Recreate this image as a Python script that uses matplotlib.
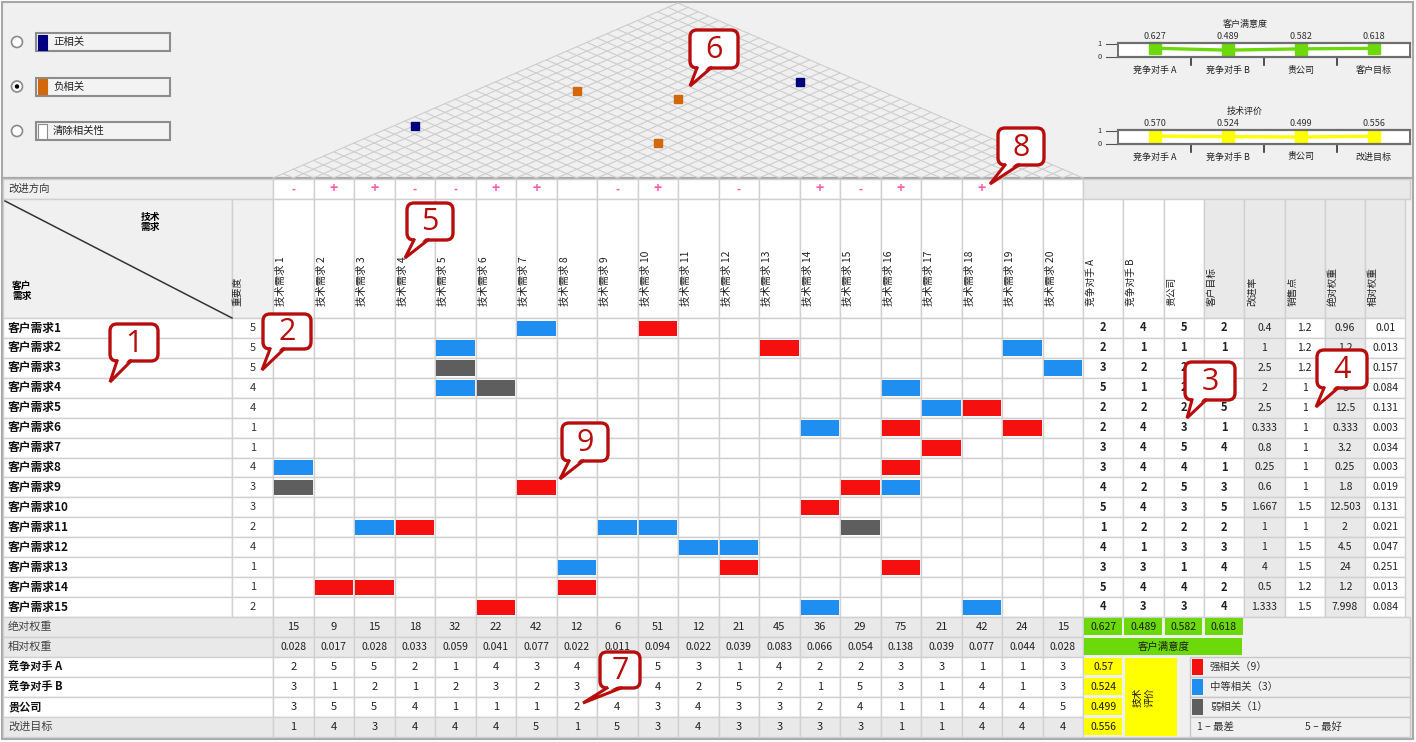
import numpy as np
import matplotlib.pyplot as plt
from matplotlib.patches import Rectangle, FancyBboxPatch, Polygon, Circle

plt.rcParams['font.family'] = ['Noto Sans CJK SC', 'DejaVu Sans']

# ---------------- data ----------------
customers = ['客户需求%d' % i for i in range(1, 16)]
importance = [5, 5, 5, 4, 4, 1, 1, 4, 3, 3, 2, 4, 1, 1, 2]
tech_names = ['技术需求 %d' % i for i in range(1, 21)]
direction = ['-', '+', '+', '-', '-', '+', '+', '', '-', '+',
             '', '-', '', '+', '-', '+', '', '+', '', '']

# relation strength per customer row, one digit per technical requirement
relation = [
    "00000030090000000000",
    "00003000000090000030",
    "00001000000000000003",
    "00003100000000030000",
    "00000000000000003900",
    "00000000000003090090",
    "00000000000000009000",
    "30000000000000090000",
    "10000090000000930000",
    "00000000000009000000",
    "00390000330000100000",
    "00000000003300000000",
    "00000003000900090000",
    "09900009000000000000",
    "00000900000003000300",
]
roof_pos = [(1, 7), (8, 19)]
roof_neg = [(3, 13), (6, 15), (8, 12)]

right_heads = ['竞争对手 A', '竞争对手 B', '贵公司', '客户目标',
               '改进率', '销售点', '绝对权重', '相对权重']
comp_a = [2, 2, 3, 5, 2, 2, 3, 3, 4, 5, 1, 4, 3, 5, 4]
comp_b = [4, 1, 2, 1, 2, 4, 4, 4, 2, 4, 2, 1, 3, 4, 3]
our_co = [5, 1, 2, 2, 2, 3, 5, 4, 5, 3, 2, 3, 1, 4, 3]
cust_goal = [2, 1, 5, 4, 5, 1, 4, 1, 3, 5, 2, 3, 4, 2, 4]
improve = ['0.4', '1', '2.5', '2', '2.5', '0.333', '0.8', '0.25', '0.6',
           '1.667', '1', '1', '4', '0.5', '1.333']
sales_pt = ['1.2', '1.2', '1.2', '1', '1', '1', '1', '1', '1', '1.5',
            '1', '1.5', '1.5', '1.2', '1.5']
row_abs = ['0.96', '1.2', '15', '8', '12.5', '0.333', '3.2', '0.25', '1.8',
           '12.503', '2', '4.5', '24', '1.2', '7.998']
row_rel = ['0.01', '0.013', '0.157', '0.084', '0.131', '0.003', '0.034',
           '0.003', '0.019', '0.131', '0.021', '0.047', '0.251', '0.013', '0.084']

bottom_labels = ['绝对权重', '相对权重', '竞争对手 A', '竞争对手 B', '贵公司', '改进目标']
tech_abs = [15, 9, 15, 18, 32, 22, 42, 12, 6, 51, 12, 21, 45, 36, 29, 75, 21, 42, 24, 15]
tech_rel = ['0.028', '0.017', '0.028', '0.033', '0.059', '0.041', '0.077', '0.022',
            '0.011', '0.094', '0.022', '0.039', '0.083', '0.066', '0.054', '0.138',
            '0.039', '0.077', '0.044', '0.028']
tech_a = [2, 5, 5, 2, 1, 4, 3, 4, 1, 5, 3, 1, 4, 2, 2, 3, 3, 1, 1, 3]
tech_b = [3, 1, 2, 1, 2, 3, 2, 3, 3, 4, 2, 5, 2, 1, 5, 3, 1, 4, 1, 3]
tech_our = [3, 5, 5, 4, 1, 1, 1, 2, 4, 3, 4, 3, 3, 2, 4, 1, 1, 4, 4, 5]
tech_goal = [1, 4, 3, 4, 4, 4, 5, 1, 5, 3, 4, 3, 3, 3, 3, 1, 1, 4, 4, 4]

satisfaction = [0.627, 0.489, 0.582, 0.618]
sat_labels = ['竞争对手 A', '竞争对手 B', '贵公司', '客户目标']
tech_eval = [0.57, 0.524, 0.499, 0.556]
eval_labels = ['竞争对手 A', '竞争对手 B', '贵公司', '改进目标']

legend_roof = ['正相关', '负相关', '清除相关性']
legend_rel = ['强相关（9）', '中等相关（3）', '弱相关（1）']

# ---------------- layout ----------------
X0, W, NT = 273, 40.5, 20
XE = X0 + W * NT
RX0, RW = XE, 40.3
Y0, H = 318, 19.93
YB = Y0 + 15 * H
BH = 20
ROOF_BASE, ROOF_TOP = 178, 3
GRID = '#d0d0d0'
PANEL = '#f0f0f0'
SHADE = '#e9e9e9'
RED, BLUE, DGRAY = '#f50f0f', '#1e8ff0', '#5e5e5e'
GREEN, YELLOW = '#6cd90a', '#ffff00'
rel_color = {'9': RED, '3': BLUE, '1': DGRAY}

fig = plt.figure(figsize=(14.16, 7.42), dpi=100)
ax = fig.add_axes([0, 0, 1, 1])
ax.set_xlim(0, 1416)
ax.set_ylim(742, 0)
ax.axis('off')


def box(x, y, w, h, fc='white', ec=GRID, lw=1.0, z=1):
    ax.add_patch(Rectangle((x, y), w, h, fc=fc, ec=ec, lw=lw, zorder=z))


def txt(x, y, s, size=8, **kw):
    kw.setdefault('ha', 'center')
    kw.setdefault('va', 'center')
    ax.text(x, y, s, fontsize=size, zorder=6, **kw)


# backgrounds
box(2, 2, 1411, 176, fc=PANEL, ec='#a8a8a8', lw=1.5)
box(2, 178, 1411, 561, fc=PANEL, ec='#a8a8a8', lw=1.5)

# ---------- top-left legend ----------
for k, lab in enumerate(legend_roof):
    cy = 42 + k * 44.5
    ax.add_patch(Circle((17, cy), 5.5, fc='white', ec='#8a8a8a', lw=1.2, zorder=3))
    if k == 1:
        ax.add_patch(Circle((17, cy), 2.2, fc='black', ec='none', zorder=4))
    box(36, cy - 9, 134, 18, fc='#f3f3f3', ec='#8c8c8c', lw=1.5, z=3)
    sw = ['#000080', '#d2670c', 'white'][k]
    box(37.5, cy - 7.5, 9, 15, fc=sw, ec='#8c8c8c' if k == 2 else sw, lw=0.8, z=4)
    txt(53, cy, lab, size=7.5, ha='left', color='#222')

# ---------- roof ----------
half = (XE - X0) / 2
slope = (ROOF_BASE - ROOF_TOP) / half
for k in range(0, 2 * NT + 1):
    p = X0 + k * W / 2
    xr = (p + XE) / 2
    ax.plot([p, xr], [ROOF_BASE, ROOF_BASE - (XE - p) / 2 * slope],
            color='#cdcdcd', lw=0.8, zorder=2)
    xl = (X0 + p) / 2
    ax.plot([p, xl], [ROOF_BASE, ROOF_BASE - (p - X0) / 2 * slope],
            color='#cdcdcd', lw=0.8, zorder=2)
for pairs, col in ((roof_pos, '#00007a'), (roof_neg, '#d2670c')):
    xs = [X0 + W * ((i - 0.5) + (j - 0.5)) / 2 for i, j in pairs]
    ys = [ROOF_BASE - (j - i) * W / 2 * slope for i, j in pairs]
    ax.scatter(xs, ys, marker='s', s=38, color=col, zorder=5)

# ---------- mini charts (top right) ----------
def mini_chart(top, values, title, labels, color):
    left, width, height = 1118, 292, 14
    a2 = fig.add_axes([left / 1416, 1 - (top + height) / 742, width / 1416, height / 742])
    a2.set_xlim(0, 4)
    a2.set_ylim(0, 1)
    a2.set_facecolor('white')
    xs = np.arange(4) + 0.5
    a2.plot(xs, values, color=color, lw=2.4, marker='s', ms=9, mec=color, clip_on=False)
    a2.set_xticks([])
    a2.set_yticks([])
    for s in ('top', 'bottom'):
        a2.spines[s].set_color('#6e6e6e')
        a2.spines[s].set_linewidth(1.6)
    for s in ('left', 'right'):
        a2.spines[s].set_color('#6e6e6e')
        a2.spines[s].set_linewidth(1.4)
    for i, v in enumerate(values):
        a2.text(xs[i], 1.15, '%.3f' % v, ha='center', va='bottom', fontsize=6.5, color='#333')
        ax.text(left + width * (i + 0.5) / 4, top + height + 13, labels[i],
                ha='center', va='center', fontsize=6.5, color='#222')
    for i in range(1, 4):
        xx = left + width * i / 4
        ax.plot([xx, xx], [top + height, top + height + 8], color='#333', lw=1.2)
    ax.text(left + 127, top - 19, title, ha='center', va='center', fontsize=6.5, color='#222')
    ax.text(1100, top + 1, '1', ha='center', va='center', fontsize=5.5, color='#333')
    ax.text(1100, top + height, '0', ha='center', va='center', fontsize=5.5, color='#333')
    ax.plot([1106, left], [top + 1, top + 1], color='#555', lw=0.8)
    ax.plot([1106, left], [top + height, top + height], color='#555', lw=0.8)


mini_chart(43, satisfaction, '客户满意度', sat_labels, GREEN)
mini_chart(130, tech_eval, '技术评价', eval_labels, YELLOW)

# ---------- direction row ----------
DY = 179
box(3, DY, X0 - 3, 20, fc=PANEL)
txt(8, DY + 10, '改进方向', size=7.5, ha='left', color='#333')
for c in range(NT):
    box(X0 + c * W, DY, W, 20)
    if direction[c]:
        txt(X0 + c * W + W / 2, DY + 10, direction[c], size=10 if direction[c] == '+' else 8,
            color='#ff5ca8', fontweight='bold')
box(XE, DY, 1410 - XE, 20, fc=SHADE)

# ---------- header ----------
HY = DY + 20
box(3, HY, 229, Y0 - HY, fc=PANEL)
ax.plot([5, 232], [HY + 2, Y0], color='#333', lw=1.1, zorder=5)
txt(150, HY + 23, '技术\n需求', size=7, fontweight='bold', linespacing=0.9)
txt(22, HY + 92, '客户\n需求', size=7, fontweight='bold', linespacing=0.9)
box(232, HY, X0 - 232, Y0 - HY, fc=PANEL)
txt(238, Y0 - 12, '重要度', size=7, rotation=90, va='bottom', color='#222')
for c in range(NT):
    box(X0 + c * W, HY, W, Y0 - HY)
    txt(X0 + c * W + 8, Y0 - 12, tech_names[c], size=7.5, rotation=90, va='bottom', color='#222')
for k in range(8):
    box(RX0 + k * RW, HY, RW, Y0 - HY, fc='white' if k < 3 else SHADE)
    txt(RX0 + k * RW + 8, Y0 - 12, right_heads[k], size=7, rotation=90, va='bottom', color='#222')

# ---------- body ----------
right_cols = [comp_a, comp_b, our_co, cust_goal, improve, sales_pt, row_abs, row_rel]
right_bg = ['white', 'white', 'white', 'white', SHADE, 'white', SHADE, 'white']
for r in range(15):
    y = Y0 + r * H
    box(3, y, 229, H)
    txt(8, y + H / 2, customers[r], size=8.5, ha='left', fontweight='bold', color='#111')
    box(232, y, X0 - 232, H)
    txt(253, y + H / 2, str(importance[r]), size=8, color='#333')
    for c in range(NT):
        box(X0 + c * W, y, W, H)
        s = relation[r][c]
        if s != '0':
            box(X0 + c * W + 1, y + 2.5, W - 2, H - 4.5, fc=rel_color[s], ec='none', z=3)
    for k in range(8):
        box(RX0 + k * RW, y, RW, H, fc=right_bg[k])
        txt(RX0 + k * RW + RW / 2, y + H / 2, str(right_cols[k][r]),
            size=7.5 if k >= 4 else 8, color='#222', fontweight='bold' if k < 4 else 'normal')

# ---------- bottom rows ----------
bottom_vals = [tech_abs, tech_rel, tech_a, tech_b, tech_our, tech_goal]
for b in range(6):
    y = YB + b * BH
    shaded = b in (0, 1, 5)
    bg = SHADE if shaded else 'white'
    box(3, y, X0 - 3, BH, fc=bg)
    txt(8, y + BH / 2, bottom_labels[b], size=8, ha='left',
        fontweight='normal' if shaded else 'bold', color='#444' if shaded else '#111')
    for c in range(NT):
        box(X0 + c * W, y, W, BH, fc=bg)
        txt(X0 + c * W + W / 2, y + BH / 2, str(bottom_vals[b][c]),
            size=7.5 if b == 1 else 8, color='#222')

# bottom right block
box(RX0, YB, 1410 - RX0, 6 * BH, fc=PANEL, ec=GRID)
for i, v in enumerate(satisfaction):
    box(RX0 + 1 + i * RW, YB + 1, RW - 2.5, BH - 3, fc=GREEN, ec='none', z=3)
    txt(RX0 + i * RW + RW / 2, YB + BH / 2, '%.3f' % v, size=7.5, color='#1a1a1a')
box(RX0 + 1, YB + BH + 1, 4 * RW - 3, BH - 3, fc=GREEN, ec='none', z=3)
txt(RX0 + 2 * RW, YB + BH * 1.5, '客户满意度', size=7.5, color='#1a1a1a')
for i, v in enumerate(tech_eval):
    y = YB + (2 + i) * BH
    box(RX0 + 1, y + 1, RW - 2.5, BH - 2.5, fc=YELLOW, ec='none', z=3)
    txt(RX0 + RW / 2, y + BH / 2, ('%.3f' % v).rstrip('0'), size=7.5, color='#1a1a1a')
box(RX0 + RW + 2, YB + 2 * BH + 1, 52, 4 * BH - 2, fc=YELLOW, ec='none', z=3)
txt(RX0 + RW + 20, YB + 4 * BH, '技术\n评价', size=7, rotation=90, color='#1a1a1a')
LX = 1190
for i, lab in enumerate(legend_rel):
    y = YB + (2 + i) * BH
    box(LX, y, 1410 - LX, BH, fc=PANEL, ec='#c8c8c8')
    box(LX + 2, y + 2, 11, BH - 4, fc=[RED, BLUE, DGRAY][i], ec='none', z=3)
    txt(LX + 20, y + BH / 2, lab, size=7.5, ha='left', color='#333')
y = YB + 5 * BH
box(LX, y, 1410 - LX, BH, fc=PANEL, ec='#c8c8c8')
txt(LX + 7, y + BH / 2, '1 – 最差', size=7.5, ha='left', color='#333')
txt(LX + 115, y + BH / 2, '5 – 最好', size=7.5, ha='left', color='#333')

# ---------- numbered callouts ----------
callouts = [
    (1, 110, 324, 48, 37, 110, 382),
    (2, 263, 314, 48, 35, 262, 370),
    (3, 1185, 362, 50, 38, 1187, 418),
    (4, 1317, 350, 50, 38, 1316, 407),
    (5, 407, 203, 46, 37, 405, 258),
    (6, 690, 30, 48, 38, 690, 86),
    (7, 600, 652, 40, 36, 583, 703),
    (8, 998, 128, 46, 37, 990, 184),
    (9, 562, 423, 46, 38, 560, 479),
]
CRED = '#b80d0d'
for n, x, y, w, h, tx, ty in callouts:
    ax.add_patch(FancyBboxPatch((x, y), w, h, boxstyle='round,pad=0,rounding_size=7',
                                fc='white', ec=CRED, lw=2.4, zorder=10))
    b1, b2 = x + 7, x + 21
    ax.add_patch(Polygon([(b1 + 1.5, y + h - 2.5), (b2 - 1.5, y + h - 2.5), (tx, ty)],
                         closed=True, fc='white', ec='none', zorder=11))
    ax.plot([b1, tx, b2], [y + h, ty, y + h], color=CRED, lw=2.2, zorder=12,
            solid_joinstyle='miter')
    ax.text(x + w / 2, y + h / 2 + 1, str(n), ha='center', va='center', fontsize=22,
            color=CRED, family='Open Sans', zorder=13)

fig.savefig('out.png', dpi=100)
